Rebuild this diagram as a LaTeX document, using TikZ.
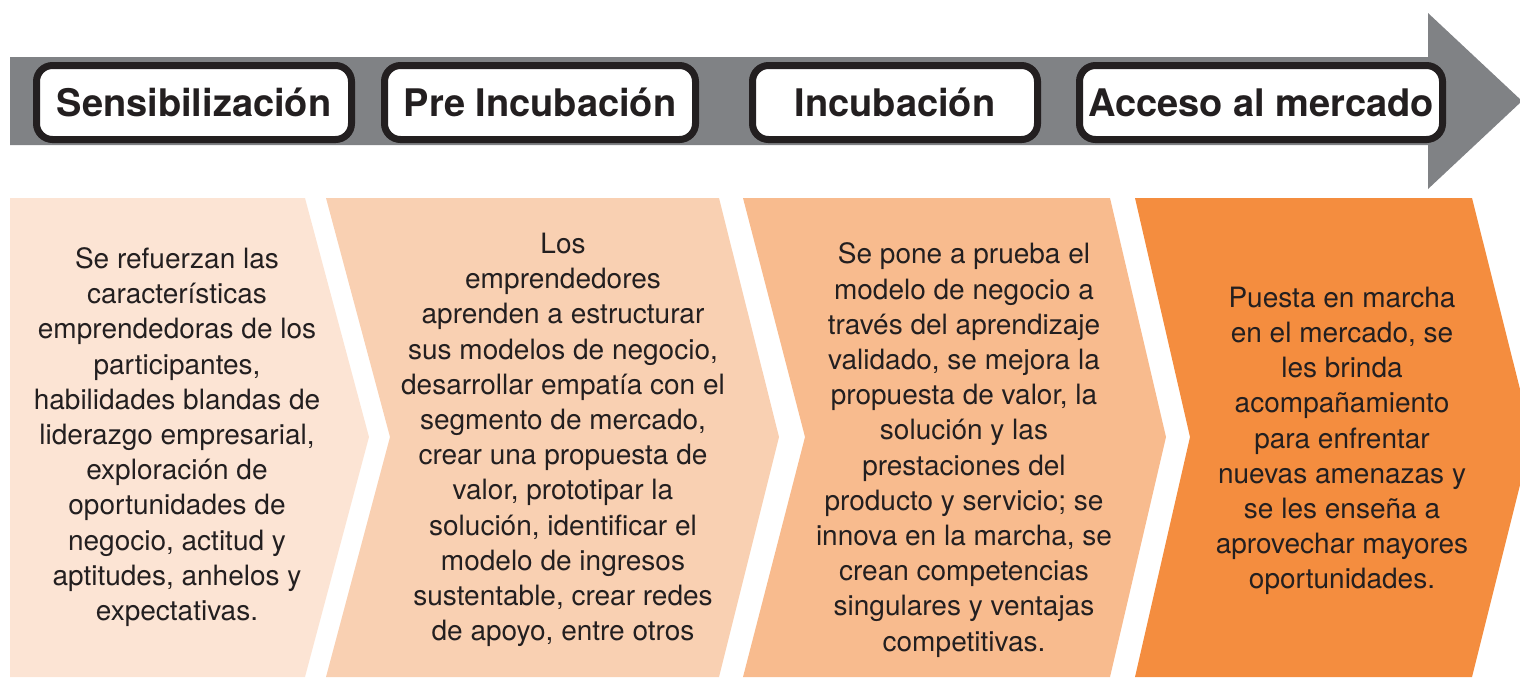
\documentclass[tikz,border=0pt]{standalone}
\usepackage{fontspec}
\setmainfont{TeX Gyre Heros}
\definecolor{barra}{HTML}{808285}
\definecolor{tinta}{HTML}{231F20}
\definecolor{tonoA}{HTML}{FCE4D4}
\definecolor{tonoB}{HTML}{F9D0B2}
\definecolor{tonoC}{HTML}{F8BB8E}
\definecolor{tonoD}{HTML}{F48D3F}
\tikzset{%
  fase/.style={draw=tinta,fill=white,line width=3.5pt,rounded corners=8pt,
    minimum height=37pt,inner sep=0pt,text=tinta,
    font=\bfseries\fontsize{19}{22}\selectfont},%
  texto/.style={align=center,text=tinta,inner sep=0pt,
    font=\fontsize{14}{17.6}\selectfont}%
}
\begin{document}
\begin{tikzpicture}[x=0.5pt,y=-0.5pt]
\useasboundingbox (0,0) rectangle (1520,677);

% flecha gris
\fill[barra] (10,57) -- (1428,57) -- (1428,13) -- (1522,101) -- (1428,189) -- (1428,145) -- (10,145) -- cycle;

\node[fase,minimum width=157.5pt] (sens) at (194,102.5) {Sensibilización};
\node[fase,minimum width=155.5pt] (preinc) at (540,102.5) {Pre Incubación};
\node[fase,minimum width=142.5pt] (inc) at (895,102.5) {Incubación};
\node[fase,minimum width=181.5pt] (acceso) at (1261,102.5) {Acceso al mercado};

% chevrones
\fill[tonoA] (10,198) -- (305,198) -- (369,437) -- (305,677) -- (10,677) -- cycle;
\fill[tonoB] (326,198) -- (719,198) -- (779,437) -- (719,677) -- (326,677) -- (390,437) -- cycle;
\fill[tonoC] (743,198) -- (1110,198) -- (1166,437) -- (1110,677) -- (743,677) -- (805,437) -- cycle;
\fill[tonoD] (1135,198) -- (1472,198) -- (1532,437) -- (1472,677) -- (1135,677) -- (1190,437) -- cycle;

\node[texto] (txtsens) at (177,437) {Se refuerzan las\\características\\emprendedoras de los\\participantes,\\habilidades blandas de\\liderazgo empresarial,\\exploración de\\oportunidades de\\negocio, actitud y\\aptitudes, anhelos y\\expectativas.};
\node[texto] (txtpreinc) at (563,440) {Los\\emprendedores\\aprenden a estructurar\\sus modelos de negocio,\\desarrollar empatía con el\\segmento de mercado,\\crear una propuesta de\\valor, prototipar la\\solución, identificar el\\modelo de ingresos\\sustentable, crear redes\\de apoyo, entre otros};
\node[texto] (txtinc) at (964,450) {Se pone a prueba el\\modelo de negocio a\\través del aprendizaje\\validado, se mejora la\\propuesta de valor, la\\solución y las\\prestaciones del\\producto y servicio; se\\innova en la marcha, se\\crean competencias\\singulares y ventajas\\competitivas.};
\node[texto] (txtacceso) at (1342,441) {Puesta en marcha\\en el mercado, se\\les brinda\\acompañamiento\\para enfrentar\\nuevas amenazas y\\se les enseña a\\aprovechar mayores\\oportunidades.};
\end{tikzpicture}
\end{document}
